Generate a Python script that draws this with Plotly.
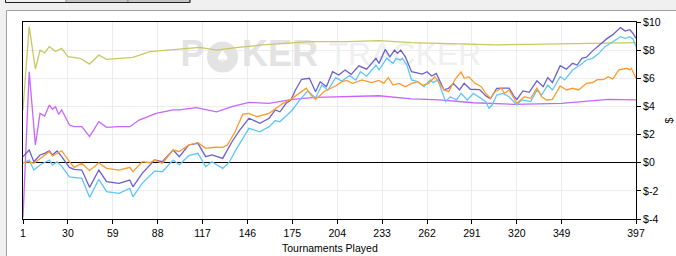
import plotly.graph_objects as go

# ---------------- data (tournament number, cumulative $) ----------------
olive = [(1, 3.75), (5, 9.67), (9, 6.66), (12, 8.0), (15, 7.8), (18, 8.25), (22, 7.9), (26, 8.13),
         (30, 7.53), (38, 7.42), (44, 7.01), (50, 7.65), (55, 7.35), (63, 7.4), (72, 7.49), (83, 7.89),
         (94, 8.0), (102, 8.06), (115, 8.2), (126, 8.0), (140, 8.2), (156, 8.37), (170, 8.5), (186, 8.6),
         (210, 8.6), (231, 8.67), (252, 8.53), (270, 8.49), (306, 8.37), (328, 8.41), (360, 8.49), (397, 8.53)]

violet = [(1, -3.9), (5, 6.47), (9, 1.26), (12, 3.51), (15, 3.32), (18, 4.1), (20, 3.8), (22, 3.98),
          (24, 3.44), (26, 3.75), (31, 2.68), (34, 2.56), (39, 2.56), (44, 1.85), (50, 2.91), (55, 2.51),
          (63, 2.56), (70, 2.56), (76, 3.03), (83, 3.32), (87, 3.51), (98, 3.75), (102, 3.75), (113, 3.91),
          (126, 3.62), (136, 3.98), (147, 4.29), (160, 4.22), (175, 4.5), (190, 4.65), (210, 4.69),
          (231, 4.76), (252, 4.53), (270, 4.46), (292, 4.26), (318, 4.15), (349, 4.22), (379, 4.5), (397, 4.46)]

purple = [(1, 0.43), (5, 0.9), (8, 0.07), (12, 0.55), (15, 0.67), (18, 0.85), (20, 0.55), (23, 0.83),
          (26, 0.43), (31, -0.33), (34, -0.47), (39, -0.52), (44, -1.75), (50, -0.52), (55, -1.35),
          (63, -1.47), (70, -1.23), (72, -1.71), (78, -0.76), (83, -0.2), (86, 0.19), (91, 0.07), (98, 0.9),
          (102, 0.43), (108, 1.26), (114, 1.38), (119, 0.43), (123, 0.55), (130, 0.31), (136, 1.49),
          (141, 2.32), (147, 3.16), (154, 2.8), (160, 3.16), (164, 3.75), (167, 3.62), (171, 4.22),
          (174, 4.46), (177, 5.17), (181, 5.93), (186, 6.0), (190, 5.05), (193, 5.76), (197, 5.4),
          (201, 6.47), (205, 6.23), (209, 6.59), (213, 6.28), (218, 6.88), (223, 6.65), (229, 7.42),
          (231, 7.06), (235, 8.05), (238, 7.53), (241, 8.0), (243, 7.77), (245, 8.0), (248, 7.53),
          (252, 6.47), (259, 6.3), (262, 6.47), (265, 6.16), (268, 6.35), (273, 5.17), (276, 5.29),
          (279, 5.64), (283, 5.17), (286, 5.64), (290, 5.22), (296, 5.2), (300, 4.75), (303, 4.55),
          (307, 5.29), (311, 5.3), (315, 5.3), (318, 4.75), (320, 4.5), (324, 5.1), (328, 5.0), (333, 5.82),
          (337, 5.4), (340, 6.05), (343, 5.7), (348, 6.9), (352, 6.65), (356, 7.06), (359, 6.94),
          (362, 7.42), (365, 7.5), (369, 7.95), (372, 8.25), (375, 8.49), (378, 8.8), (382, 9.1),
          (387, 9.6), (390, 9.36), (393, 9.45), (395, 9.2), (397, 8.84)]

lightblue = [(1, -0.04), (5, 0.19), (8, -0.52), (12, -0.16), (18, 0.19), (20, -0.16), (23, 0.07),
             (26, -0.24), (31, -1.0), (34, -1.05), (39, -1.11), (44, -2.46), (50, -1.18), (55, -2.06),
             (63, -2.18), (70, -1.82), (72, -2.42), (78, -1.47), (83, -0.9), (86, -0.6), (91, -0.64),
             (98, 0.19), (102, -0.16), (108, 0.5), (114, 0.67), (119, -0.28), (123, 0.07), (130, -0.4),
             (134, 0.0), (139, 1.0), (147, 2.44), (154, 2.2), (160, 2.56), (164, 3.0), (167, 2.91),
             (175, 3.75), (180, 4.5), (185, 5.1), (190, 4.6), (194, 5.5), (198, 5.17), (203, 6.05),
             (207, 5.8), (212, 6.2), (216, 5.88), (219, 6.47), (223, 6.15), (229, 6.94), (231, 6.6),
             (236, 7.42), (240, 7.06), (242, 7.4), (245, 7.3), (246, 7.42), (249, 6.94), (252, 5.88),
             (256, 5.76), (260, 5.4), (264, 5.88), (266, 5.69), (269, 5.88), (274, 4.34), (277, 4.69),
             (281, 4.46), (284, 4.93), (288, 4.46), (292, 4.93), (297, 4.58), (300, 4.34), (302, 3.87),
             (304, 4.1), (307, 4.81), (311, 4.93), (315, 4.69), (320, 4.1), (323, 4.46), (329, 4.34),
             (333, 5.17), (336, 4.81), (340, 5.52), (343, 5.17), (348, 6.11), (351, 5.88), (356, 6.59),
             (361, 6.94), (365, 7.3), (369, 7.42), (373, 7.77), (377, 8.25), (382, 8.6), (387, 8.96),
             (390, 8.84), (393, 8.96), (395, 8.8), (397, 8.25)]

orange = [(1, 0.0), (5, 0.07), (8, -0.04), (12, 0.3), (15, 0.55), (18, 0.78), (20, 0.48), (26, 0.85),
          (31, 0.07), (34, -0.33), (39, -0.04), (44, -0.57), (50, 0.0), (55, -0.4), (63, -0.52),
          (70, -0.33), (72, -0.64), (78, 0.07), (83, 0.0), (86, 0.19), (91, -0.04), (98, 0.9), (102, 0.8),
          (108, 1.26), (114, 1.42), (119, 1.02), (125, 1.1), (130, 1.09), (133, 1.26), (138, 2.2),
          (143, 3.45), (147, 3.5), (152, 3.27), (160, 3.51), (165, 3.9), (169, 4.22), (174, 4.5),
          (177, 4.75), (181, 5.1), (184, 5.3), (187, 4.8), (190, 4.5), (196, 5.1), (200, 5.3), (203, 5.45),
          (207, 5.76), (210, 5.85), (214, 5.64), (220, 5.88), (226, 5.69), (231, 5.85), (234, 5.64),
          (237, 6.05), (240, 5.52), (244, 5.64), (248, 5.4), (252, 5.64), (256, 5.76), (259, 5.5),
          (263, 5.64), (267, 6.11), (273, 5.17), (276, 5.05), (280, 5.9), (284, 6.45), (286, 6.0),
          (289, 6.11), (293, 5.64), (297, 5.4), (300, 4.93), (303, 4.58), (306, 5.05), (310, 5.29),
          (312, 4.93), (315, 5.17), (320, 4.22), (325, 4.69), (329, 4.58), (333, 5.3), (336, 4.7),
          (339, 4.46), (343, 4.5), (348, 5.45), (352, 5.17), (356, 5.29), (360, 5.17), (365, 5.64),
          (369, 5.7), (372, 5.9), (376, 5.9), (379, 6.11), (382, 5.95), (386, 6.6), (391, 6.71),
          (393, 6.6), (394, 6.71), (397, 6.0)]

x_ticks = [1, 30, 59, 88, 117, 146, 175, 204, 233, 262, 291, 320, 349, 397]
y_ticks = [10, 8, 6, 4, 2, 0, -2, -4]
x_title = "Tournaments Played"
y_title = "$"

# ---------------- geometry ----------------
W, H = 676, 256
L, T, R, B = 23, 22, 40, 37
PW, PH = W - L - R, H - T - B
X0, X1 = 1, 397
Y0, Y1 = -4, 10


def pxx(p):
    return (p - L) / PW


def pxy(p):
    return (T + PH - p) / PH


def dx(p):
    return X0 + (p - L) / PW * (X1 - X0)


def dy(p):
    return Y1 - (p - T) / PH * (Y1 - Y0)


FONT = "Liberation Sans, Arial, sans-serif"
fig = go.Figure()

# watermark (drawn first so that the lines sit on top)
wm = [("P", 192.5, 57, 36, "#e3e3e3", "bold"),
      ("KER", 280, 57, 36, "#e3e3e3", "bold"),
      ("TRACKER", 405, 57, 32, "#efefef", "normal")]
for txt, cx, cy, sz, col, wt in wm:
    fig.add_trace(go.Scatter(x=[dx(cx)], y=[dy(cy)], mode="text", text=[txt],
                             textposition="middle center", hoverinfo="skip",
                             textfont=dict(family="Liberation Sans, Arial",
                                           size=sz, color=col, weight=wt)))
fig.add_trace(go.Scatter(x=[dx(222.5)], y=[dy(57)], mode="markers", hoverinfo="skip",
                         marker=dict(size=31, color="#e3e3e3", line=dict(width=0))))
fig.add_trace(go.Scatter(x=[dx(222.5)], y=[dy(58)], mode="text", text=["♠"], hoverinfo="skip",
                         textposition="middle center",
                         textfont=dict(family="DejaVu Sans", size=16, color="#ffffff")))

series = [("olive", olive, "#c8c864"), ("violet", violet, "#c766ff"),
          ("lightblue", lightblue, "#5ec6fb"), ("purple", purple, "#6c60cc"),
          ("orange", orange, "#ff9a2a")]
for name, pts, col in series:
    fig.add_trace(go.Scatter(x=[p[0] for p in pts], y=[p[1] for p in pts], mode="lines", name=name,
                             line=dict(color=col, width=1.3), hoverinfo="skip"))

shapes = [
    # white panel with gray border
    dict(type="rect", xref="paper", yref="paper", x0=pxx(6.5), x1=pxx(700), y0=pxy(280), y1=pxy(10.5),
         fillcolor="#ffffff", line=dict(color="#a0a0a0", width=1), layer="below"),
    # tabs at the top
    dict(type="rect", xref="paper", yref="paper", x0=pxx(66), x1=pxx(128), y0=pxy(2.5), y1=pxy(-5),
         fillcolor="#c4c4c4", line=dict(color="#8a8a8a", width=1), layer="below"),
    dict(type="rect", xref="paper", yref="paper", x0=pxx(128), x1=pxx(190), y0=pxy(2.5), y1=pxy(-5),
         fillcolor="#c4c4c4", line=dict(color="#8a8a8a", width=1), layer="below"),
    dict(type="rect", xref="paper", yref="paper", x0=pxx(5.5), x1=pxx(190), y0=pxy(2.5), y1=pxy(-5),
         fillcolor="rgba(0,0,0,0)", line=dict(color="#202020", width=1), layer="below"),
]

annotations = [
    dict(text=x_title, xref="paper", yref="paper", x=0.5, y=pxy(248), xanchor="center",
         yanchor="middle", showarrow=False, font=dict(family=FONT, size=10.5, color="#000")),
    dict(text=y_title, xref="paper", yref="paper", x=pxx(668), y=0.5, xanchor="center",
         yanchor="middle", showarrow=False, textangle=-90,
         font=dict(family=FONT, size=10.5, color="#000")),
]

fig.update_layout(
    width=W, height=H, autosize=False,
    margin=dict(l=L, r=R, t=T, b=B, pad=0),
    paper_bgcolor="#f0f0f0", plot_bgcolor="#ffffff",
    showlegend=False, shapes=shapes, annotations=annotations,
    font=dict(family=FONT, size=10.5, color="#000000"),
    xaxis=dict(range=[X0, X1], tickvals=x_ticks, ticktext=[str(v) for v in x_ticks],
               ticks="outside", ticklen=4, tickcolor="#000", showline=True, linecolor="#000",
               linewidth=1, mirror=True, showgrid=True, gridcolor="#ececec", gridwidth=1,
               zeroline=False, tickfont=dict(size=10.5), automargin=False),
    yaxis=dict(range=[Y0, Y1], side="right", tickvals=y_ticks, ticktext=[f"${v}" for v in y_ticks],
               ticks="outside", ticklen=4, tickcolor="#000", showline=True, linecolor="#000",
               linewidth=1, mirror=True, showgrid=True, gridcolor="#ececec", gridwidth=1,
               zeroline=True, zerolinecolor="#000", zerolinewidth=1.3, tickfont=dict(size=10.5),
               automargin=False),
)

fig.write_html("out.html", config={"displayModeBar": False})
